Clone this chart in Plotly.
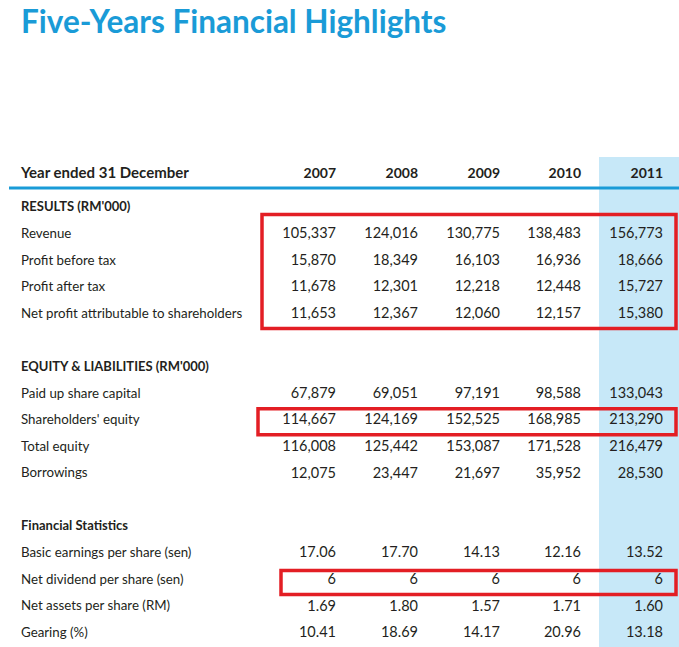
import plotly.graph_objects as go

# ---- data ----
years = ["2007", "2008", "2009", "2010", "2011"]

results_title = "RESULTS (RM'000)"
results_labels = ["Revenue", "Profit before tax", "Profit after tax",
                  "Net profit attributable to shareholders"]
revenue = [105337, 124016, 130775, 138483, 156773]
profit_before_tax = [15870, 18349, 16103, 16936, 18666]
profit_after_tax = [11678, 12301, 12218, 12448, 15727]
net_profit_shareholders = [11653, 12367, 12060, 12157, 15380]

equity_title = "EQUITY & LIABILITIES (RM'000)"
equity_labels = ["Paid up share capital", "Shareholders' equity", "Total equity", "Borrowings"]
paid_up_capital = [67879, 69051, 97191, 98588, 133043]
shareholders_equity = [114667, 124169, 152525, 168985, 213290]
total_equity = [116008, 125442, 153087, 171528, 216479]
borrowings = [12075, 23447, 21697, 35952, 28530]

stats_title = "Financial Statistics"
stats_labels = ["Basic earnings per share (sen)", "Net dividend per share (sen)",
                "Net assets per share (RM)", "Gearing (%)"]
eps = [17.06, 17.70, 14.13, 12.16, 13.52]
net_dividend = [6, 6, 6, 6, 6]
net_assets_per_share = [1.69, 1.80, 1.57, 1.71, 1.60]
gearing = [10.41, 18.69, 14.17, 20.96, 13.18]

# ---- layout helpers ----
W, H = 679, 647
TEXT = "#231f20"
BLUE = "#1a9bd7"
RED = "#e31e24"
FONT = "Lato"
col_right = [336, 418, 500, 581, 663]
label_x = 21
header_y = 174
first_y = 208
pitch = 26.6

fmt_int = lambda v: f"{v:,}"
fmt_2 = lambda v: f"{v:.2f}"
fmt_plain = lambda v: f"{v}"

sections = [
    (results_title, results_labels,
     [revenue, profit_before_tax, profit_after_tax, net_profit_shareholders],
     [fmt_int] * 4),
    (equity_title, equity_labels,
     [paid_up_capital, shareholders_equity, total_equity, borrowings],
     [fmt_int] * 4),
    (stats_title, stats_labels,
     [eps, net_dividend, net_assets_per_share, gearing],
     [fmt_2, fmt_plain, fmt_2, fmt_2]),
]

head_y, head_txt = [], []
label_y, label_txt = [], []
cell_y, cell_txt = [[] for _ in years], [[] for _ in years]
row_pos = {}
idx = 0
for title, labels, rows, fmts in sections:
    head_y.append(first_y + idx * pitch)
    head_txt.append(f"<b>{title}</b>")
    idx += 1
    for lab, vals, f in zip(labels, rows, fmts):
        y = first_y + idx * pitch
        row_pos[lab] = y
        label_y.append(y)
        label_txt.append(lab)
        for c, v in enumerate(vals):
            cell_y[c].append(y)
            cell_txt[c].append(f(v))
        idx += 1
    idx += 1  # spacer row between sections

fig = go.Figure()

# header row
fig.add_trace(go.Scatter(x=[label_x], y=[header_y], mode="text",
                         text=["<b>Year ended 31 December</b>"], textposition="middle right",
                         textfont=dict(family=FONT, size=15, color=TEXT), hoverinfo="skip"))
fig.add_trace(go.Scatter(x=col_right, y=[header_y] * len(years), mode="text",
                         text=[f"<b>{y}</b>" for y in years], textposition="middle left",
                         textfont=dict(family=FONT, size=14, color=TEXT), hoverinfo="skip"))

# section headings
fig.add_trace(go.Scatter(x=[label_x] * len(head_y), y=head_y, mode="text", text=head_txt,
                         textposition="middle right",
                         textfont=dict(family=FONT, size=13, color=TEXT), hoverinfo="skip"))

# row labels
fig.add_trace(go.Scatter(x=[label_x] * len(label_y), y=label_y, mode="text", text=label_txt,
                         textposition="middle right",
                         textfont=dict(family=FONT, size=13.3, color=TEXT), hoverinfo="skip"))

# values per year column
for c in range(len(years)):
    fig.add_trace(go.Scatter(x=[col_right[c]] * len(cell_y[c]), y=cell_y[c], mode="text",
                             text=cell_txt[c], textposition="middle left",
                             textfont=dict(family=FONT, size=14.5, color=TEXT), hoverinfo="skip"))

shapes = [
    # highlighted latest year column
    dict(type="rect", x0=599, x1=W, y0=157, y1=H, fillcolor="#c7e8f8", line_width=0, layer="below"),
    # header rule
    dict(type="line", x0=9, x1=W, y0=188, y1=188, line=dict(color=BLUE, width=3)),
]

def red_box(x0, y_top, y_bot, pad_top):
    return dict(type="rect", x0=x0, x1=676, y0=y_top - pad_top, y1=y_bot + 14,
                line=dict(color=RED, width=3.5), fillcolor="rgba(0,0,0,0)")

shapes.append(red_box(262, row_pos[results_labels[0]], row_pos[results_labels[-1]], 20))
shapes.append(red_box(258, row_pos["Shareholders' equity"], row_pos["Shareholders' equity"], 12))
shapes.append(red_box(281, row_pos["Net dividend per share (sen)"],
                      row_pos["Net dividend per share (sen)"], 10))

fig.update_layout(
    width=W, height=H,
    margin=dict(l=0, r=0, t=0, b=0),
    paper_bgcolor="white", plot_bgcolor="white",
    showlegend=False,
    xaxis=dict(range=[0, W], visible=False, fixedrange=True),
    yaxis=dict(range=[H, 0], visible=False, fixedrange=True),
    shapes=shapes,
    annotations=[dict(text="<b>Five-Years Financial Highlights</b>", x=19, y=21, xref="x", yref="y",
                      xanchor="left", yanchor="middle", showarrow=False,
                      font=dict(family=FONT, size=31.5, color=BLUE))],
)

fig.write_html("out.html", config={"displayModeBar": False},
               post_script="document.body.style.margin='0';document.body.style.overflow='hidden';")
